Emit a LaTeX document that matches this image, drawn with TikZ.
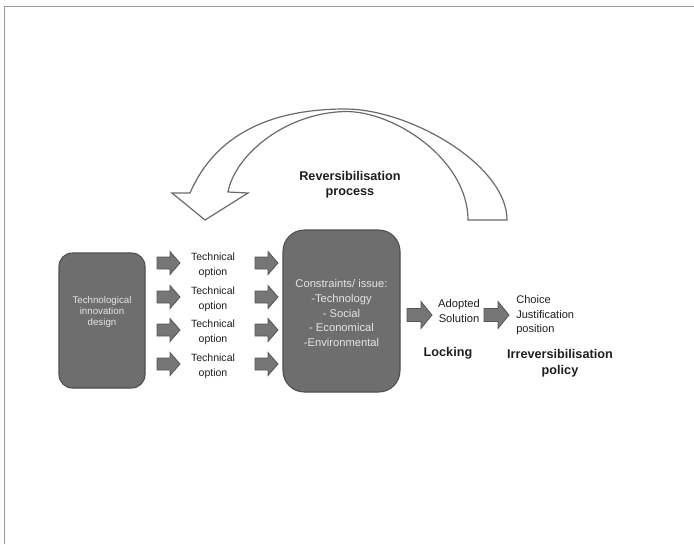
\documentclass[tikz,border=0pt]{standalone}
\usepackage{fontspec}
\setmainfont{Liberation Sans}
\definecolor{boxfill}{HTML}{6E6E6E}
\definecolor{boxline}{HTML}{4E4E4E}
\definecolor{boxtxt}{HTML}{E4E4E4}
\definecolor{arrfill}{HTML}{767676}
\definecolor{arrline}{HTML}{555555}
\definecolor{curveline}{HTML}{6A6A6A}
\definecolor{framecol}{HTML}{9A9A9A}
\definecolor{txt}{HTML}{1E1E1E}
\tikzset{
  darkbox/.style={draw=boxline, fill=boxfill, line width=0.8pt, inner sep=0pt},
  boxtext/.style={text=boxtxt, align=center, inner sep=0pt},
  plain/.style={text=txt, align=center, inner sep=0pt},
  boldlbl/.style={text=txt, align=center, inner sep=0pt, font=\fontsize{9.5}{11.6}\selectfont\bfseries},
  arrowfill/.style={fill=arrfill, draw=arrline, line width=0.6pt, line join=miter},
  blkarr/.pic={\path[arrowfill] (0,-6)--(13,-6)--(13,-11.5)--(23,0)--(13,11.5)--(13,6)--(0,6)--cycle;},
  blkarrL/.pic={\path[arrowfill] (0,-6.5)--(14,-6.5)--(14,-13.5)--(25,0)--(14,13.5)--(14,6.5)--(0,6.5)--cycle;}
}
\begin{document}
\begin{tikzpicture}[x=0.75pt, y=-0.75pt]
\useasboundingbox (0,0) rectangle (694,544);
% frame
\draw[framecol, line width=1.1pt] (4.5,544) -- (4.5,6.5) -- (694,6.5);

% curved reversibilisation arrow
\draw[curveline, fill=white, line width=0.9pt, line join=miter]
  (190,193) .. controls (215,135) and (270,109) .. (345,109)
  .. controls (410,109) and (507,165) .. (507,220)
  -- (468,220)
  .. controls (468,160) and (395,111) .. (345,111.5)
  .. controls (285,113) and (235,155) .. (228,192)
  -- (248,193) -- (205,220) -- (172,193) -- cycle;
\node[boldlbl] (rev) at (350,184.5) {Reversibilisation\\process};

% left box
\node[darkbox, rounded corners=10pt, minimum width=64.5pt, minimum height=101.25pt] (tid) at (102,320.5) {};
\node[boxtext, font=\fontsize{7.3}{8.3}\selectfont] (tidtxt) at (102,312) {Technological\\innovation\\design};

% technical options
\foreach \i/\ya/\yt in {1/263/265, 2/297/299, 3/330/332, 4/364/366}{
  \pic (la\i) at (157,\ya) {blkarr};
  \node[plain, font=\fontsize{7.9}{11.25}\selectfont] (t\i) at (213,\yt) {Technical\\option};
  \pic (ra\i) at (255,\ya) {blkarr};
}

% constraints box
\node[darkbox, rounded corners=16pt, minimum width=87.75pt, minimum height=121.5pt] (con) at (341.5,311) {};
\node[boxtext, font=\fontsize{8.4}{10.9}\selectfont] (contxt) at (341.5,313) {Constraints/ issue:\\-Technology\\- Social\\- Economical\\-Environmental};

% adopted solution
\pic (a5) at (407,315) {blkarrL};
\node[plain, font=\fontsize{8.4}{11}\selectfont] (adopt) at (459,311) {Adopted\\Solution};
\pic (a6) at (484,315) {blkarrL};
\node[plain, align=left, anchor=west, font=\fontsize{8.3}{10.9}\selectfont] (choice) at (516,315.5) {Choice\\Justification\\position};

% labels
\node[boldlbl] (lock) at (448,353) {Locking};
\node[boldlbl, font=\fontsize{9.5}{12}\selectfont\bfseries] (irr) at (560,363) {Irreversibilisation\\policy};
\end{tikzpicture}
\end{document}
